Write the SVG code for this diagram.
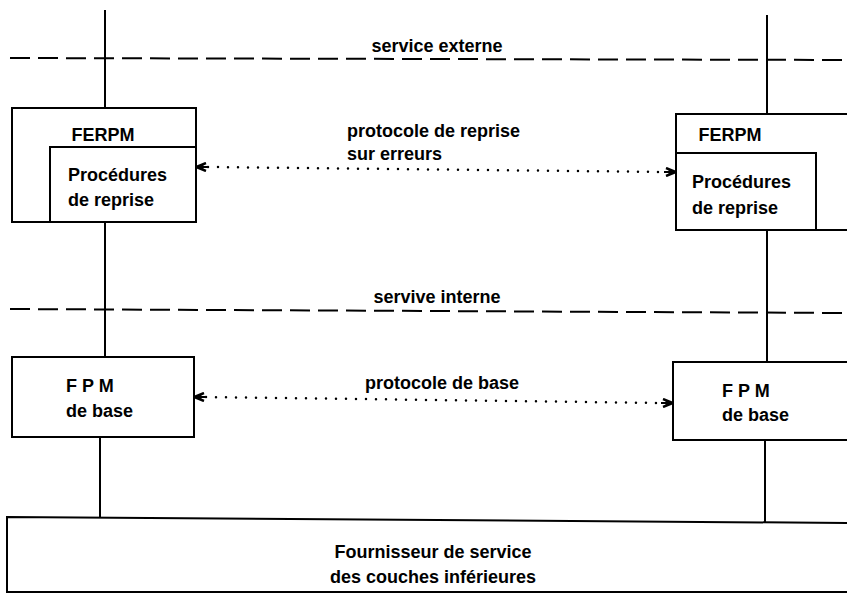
<svg xmlns="http://www.w3.org/2000/svg" width="847" height="595" viewBox="0 0 847 595">
<defs>
<style>
.b{fill:#fff;stroke:#000;stroke-width:2}
.l{stroke:#000;stroke-width:2;fill:none}
.d{stroke:#000;stroke-width:2;fill:none;stroke-dasharray:20 8}
.p{stroke:#000;stroke-width:2.5;fill:none;stroke-dasharray:0 10;stroke-linecap:round}
text{font-family:"Liberation Sans","DejaVu Sans",sans-serif;font-size:18px;font-weight:bold;fill:#000}
.c{text-anchor:middle}
</style>
<marker id="ah" viewBox="0 0 12 10" refX="12" refY="5" markerWidth="12" markerHeight="10" markerUnits="userSpaceOnUse" orient="auto-start-reverse">
<path d="M2,1 L12,5 L2,9 M4,5 L12,5" fill="none" stroke="#000" stroke-width="2.5"/>
</marker>
</defs>
<rect width="847" height="595" fill="#fff"/>
<g id="connectors">
<line class="l" x1="105" y1="10" x2="105" y2="108"/>
<line class="l" x1="767" y1="15" x2="767" y2="114"/>
<line class="l" x1="105" y1="222" x2="105" y2="357"/>
<line class="l" x1="767" y1="230" x2="767" y2="362"/>
<line class="l" x1="100" y1="437" x2="100" y2="518"/>
<line class="l" x1="765" y1="440" x2="765" y2="522"/>
<line class="p" x1="208" y1="167" x2="666" y2="172"/>
<path class="l" d="M196,167 L208,167" marker-start="url(#ah)"/>
<path class="l" d="M664,172 L676,172" marker-end="url(#ah)"/>
<line class="p" x1="206" y1="397" x2="662" y2="403"/>
<path class="l" d="M194,397 L206,397" marker-start="url(#ah)"/>
<path class="l" d="M661,403 L673,403" marker-end="url(#ah)"/>
</g>
<g id="service-externe">
<line class="d" x1="10" y1="58" x2="847" y2="60"/>
<text class="c" x="437" y="52">service externe</text>
</g>
<g id="service-interne">
<line class="d" x1="10" y1="309" x2="847" y2="313"/>
<text class="c" x="437" y="303">servive interne</text>
</g>
<g id="ferpm-left">
<rect class="b" x="12" y="108" width="184" height="114"/>
<rect class="b" x="50" y="147" width="146" height="75"/>
<text class="c" x="103" y="141">FERPM</text>
<text x="68" y="181">Procédures</text>
<text x="68" y="206">de reprise</text>
</g>
<g id="ferpm-right">
<rect class="b" x="676" y="114" width="175" height="116"/>
<rect class="b" x="676" y="153" width="140" height="77"/>
<text class="c" x="730" y="141">FERPM</text>
<text x="692" y="188">Procédures</text>
<text x="692" y="214">de reprise</text>
</g>
<g id="protocole-reprise">
<text x="347" y="137">protocole de reprise</text>
<text x="347" y="160">sur erreurs</text>
</g>
<g id="protocole-base">
<text class="c" x="442" y="389">protocole de base</text>
</g>
<g id="fpm-left">
<rect class="b" x="12" y="357" width="182" height="80"/>
<text x="66" y="392">F P M</text>
<text x="66" y="417">de base</text>
</g>
<g id="fpm-right">
<rect class="b" x="673" y="362" width="178" height="78"/>
<text x="722" y="397">F P M</text>
<text x="722" y="421">de base</text>
</g>
<g id="fournisseur">
<path class="b" d="M7,517 L851,523 L851,592 L7,592 Z"/>
<text class="c" x="433" y="558">Fournisseur de service</text>
<text class="c" x="433" y="583">des couches inférieures</text>
</g>
</svg>
